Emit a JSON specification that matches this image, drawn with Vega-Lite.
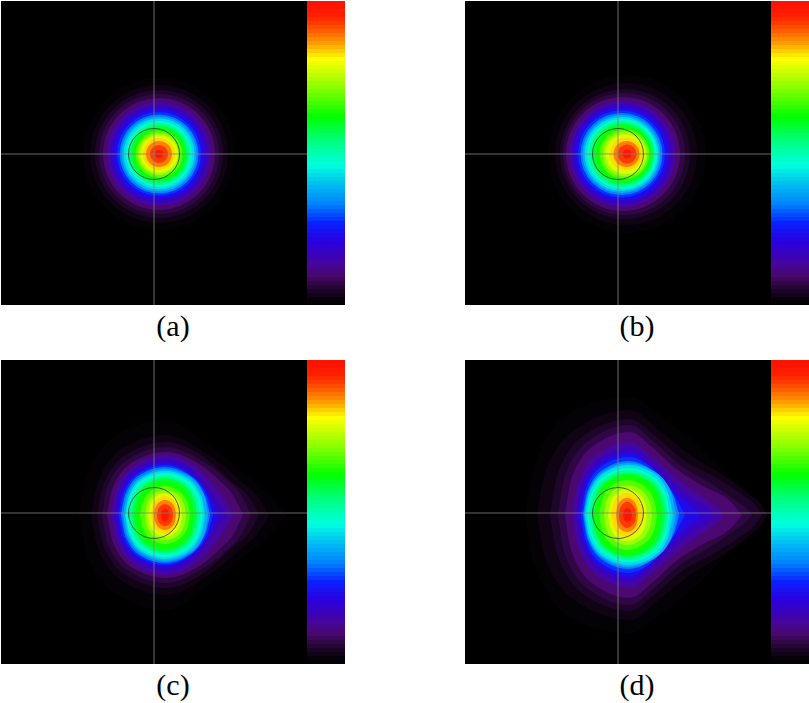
{"$schema":"https://vega.github.io/schema/vega-lite/v6.json","background":"white","padding":{"left":0,"top":0,"right":0,"bottom":0},"autosize":{"type":"pad"},"config":{"view":{"stroke":null}},
"data":{"values":[
{"p":"a","v":0.015,"x":158,"y":153,"r":76},{"p":"a","v":0.03,"x":158,"y":153,"r":69},{"p":"a","v":0.05,"x":158,"y":153,"r":64},{"p":"a","v":0.07,"x":158,"y":153,"r":60},{"p":"a","v":0.1,"x":158,"y":153,"r":56},{"p":"a","v":0.14,"x":158,"y":153,"r":52},{"p":"a","v":0.18,"x":158,"y":153,"r":48.5},{"p":"a","v":0.23,"x":158,"y":153,"r":45},{"p":"a","v":0.28,"x":158,"y":153,"r":42},{"p":"a","v":0.33,"x":158,"y":153,"r":39.5},{"p":"a","v":0.38,"x":158,"y":153,"r":37.5},{"p":"a","v":0.43,"x":158,"y":153,"r":35.5},{"p":"a","v":0.48,"x":158,"y":153,"r":33},{"p":"a","v":0.53,"x":158,"y":153,"r":31},{"p":"a","v":0.58,"x":158,"y":153,"r":28.5},{"p":"a","v":0.63,"x":158,"y":153,"r":26},{"p":"a","v":0.68,"x":158,"y":153,"r":23.5},{"p":"a","v":0.73,"x":158,"y":153,"r":21},{"p":"a","v":0.78,"x":158,"y":153,"r":19},{"p":"a","v":0.83,"x":158,"y":153,"r":16},{"p":"a","v":0.88,"x":158,"y":153,"r":13},{"p":"a","v":0.93,"x":158,"y":153,"r":9},{"p":"a","v":0.98,"x":158,"y":153,"r":4},
{"p":"b","v":0.015,"x":162,"y":153,"r":79},{"p":"b","v":0.03,"x":161,"y":153,"r":71},{"p":"b","v":0.05,"x":160,"y":153,"r":65},{"p":"b","v":0.07,"x":159,"y":153,"r":61},{"p":"b","v":0.1,"x":158,"y":153,"r":57},{"p":"b","v":0.14,"x":157.5,"y":153,"r":53},{"p":"b","v":0.18,"x":157,"y":153,"r":50},{"p":"b","v":0.23,"x":157,"y":153,"r":46.5},{"p":"b","v":0.28,"x":156.5,"y":153,"r":43.5},{"p":"b","v":0.33,"x":156.5,"y":153,"r":41},{"p":"b","v":0.38,"x":156.5,"y":153,"r":39},{"p":"b","v":0.43,"x":156.5,"y":153,"r":37},{"p":"b","v":0.48,"x":157,"y":153,"r":35},{"p":"b","v":0.53,"x":157,"y":153,"r":33},{"p":"b","v":0.58,"x":157.5,"y":153,"r":30.5},{"p":"b","v":0.63,"x":158,"y":153,"r":28},{"p":"b","v":0.68,"x":159.5,"y":153,"r":25},{"p":"b","v":0.73,"x":160,"y":153,"r":22.5},{"p":"b","v":0.78,"x":160.5,"y":153,"r":20},{"p":"b","v":0.83,"x":161,"y":153,"r":16.5},{"p":"b","v":0.88,"x":161.5,"y":153,"r":13},{"p":"b","v":0.93,"x":162,"y":153,"r":9.5},{"p":"b","v":0.98,"x":162,"y":153,"r":4.5},
{"p":"c","v":0.015,"x":78,"a":155,"b":155},{"p":"c","v":0.015,"x":87,"a":113,"b":197},{"p":"c","v":0.015,"x":121.5,"a":72,"b":238},{"p":"c","v":0.015,"x":165,"a":60,"b":250},{"p":"c","v":0.015,"x":210,"a":87,"b":223},{"p":"c","v":0.015,"x":250,"a":119,"b":191},{"p":"c","v":0.015,"x":272,"a":139,"b":171},{"p":"c","v":0.015,"x":285,"a":155,"b":155},
{"p":"c","v":0.03,"x":90,"a":155,"b":155},{"p":"c","v":0.03,"x":97.5,"a":120,"b":190},{"p":"c","v":0.03,"x":127.5,"a":85,"b":225},{"p":"c","v":0.03,"x":165,"a":75,"b":235},{"p":"c","v":0.03,"x":205,"a":93,"b":217},{"p":"c","v":0.03,"x":240,"a":121,"b":189},{"p":"c","v":0.03,"x":258,"a":138,"b":172},{"p":"c","v":0.03,"x":268,"a":155,"b":155},
{"p":"c","v":0.05,"x":96,"a":155,"b":155},{"p":"c","v":0.05,"x":103,"a":123,"b":187},{"p":"c","v":0.05,"x":130.5,"a":91.5,"b":218.5},{"p":"c","v":0.05,"x":165,"a":82,"b":228},{"p":"c","v":0.05,"x":200,"a":95,"b":215},{"p":"c","v":0.05,"x":232,"a":123,"b":187},{"p":"c","v":0.05,"x":248,"a":137,"b":173},{"p":"c","v":0.05,"x":258,"a":155,"b":155},
{"p":"c","v":0.07,"x":101,"a":155,"b":155},{"p":"c","v":0.07,"x":107,"a":125,"b":185},{"p":"c","v":0.07,"x":133,"a":96,"b":214},{"p":"c","v":0.07,"x":165,"a":87,"b":223},{"p":"c","v":0.07,"x":198,"a":99,"b":211},{"p":"c","v":0.07,"x":225,"a":119,"b":191},{"p":"c","v":0.07,"x":240,"a":135,"b":175},{"p":"c","v":0.07,"x":250,"a":155,"b":155},
{"p":"c","v":0.1,"x":106,"a":155,"b":155},{"p":"c","v":0.1,"x":112,"a":127,"b":183},{"p":"c","v":0.1,"x":135.5,"a":100,"b":210},{"p":"c","v":0.1,"x":165,"a":92,"b":218},{"p":"c","v":0.1,"x":195,"a":102,"b":208},{"p":"c","v":0.1,"x":220,"a":122,"b":188},{"p":"c","v":0.1,"x":232,"a":135,"b":175},{"p":"c","v":0.1,"x":242,"a":155,"b":155},
{"p":"c","v":0.14,"x":110,"a":155,"b":155},{"p":"c","v":0.14,"x":115.5,"a":129,"b":181},{"p":"c","v":0.14,"x":137.5,"a":103,"b":207},{"p":"c","v":0.14,"x":165,"a":95,"b":215},{"p":"c","v":0.14,"x":199,"a":110,"b":200},{"p":"c","v":0.14,"x":222,"a":137,"b":173},{"p":"c","v":0.14,"x":233,"a":155,"b":155},
{"p":"c","v":0.18,"x":113,"a":155,"b":155},{"p":"c","v":0.18,"x":118,"a":130.5,"b":179.5},{"p":"c","v":0.18,"x":138.5,"a":106.5,"b":203.5},{"p":"c","v":0.18,"x":164,"a":99,"b":211},{"p":"c","v":0.18,"x":194,"a":112,"b":198},{"p":"c","v":0.18,"x":217,"a":143,"b":167},{"p":"c","v":0.18,"x":225,"a":155,"b":155},
{"p":"c","v":0.23,"x":116,"a":155,"b":155},{"p":"c","v":0.23,"x":121,"a":132,"b":178},{"p":"c","v":0.23,"x":140,"a":110,"b":200},{"p":"c","v":0.23,"x":164,"a":103,"b":207},{"p":"c","v":0.23,"x":190,"a":113,"b":197},{"p":"c","v":0.23,"x":211,"a":141,"b":169},{"p":"c","v":0.23,"x":217,"a":155,"b":155},
{"p":"c","v":0.28,"x":118,"a":155,"b":155},{"p":"c","v":0.28,"x":122.6,"a":133,"b":177},{"p":"c","v":0.28,"x":141,"a":111.5,"b":198.5},{"p":"c","v":0.28,"x":164,"a":105,"b":205},{"p":"c","v":0.28,"x":188,"a":114,"b":196},{"p":"c","v":0.28,"x":207,"a":138,"b":172},{"p":"c","v":0.28,"x":212,"a":155,"b":155},
{"p":"c","v":0.33,"x":120,"a":155,"b":155},{"p":"c","v":0.33,"x":124.4,"a":134,"b":176},{"p":"c","v":0.33,"x":142,"a":113,"b":197},{"p":"c","v":0.33,"x":164,"a":107,"b":203},{"p":"c","v":0.33,"x":186.5,"a":114,"b":196},{"p":"c","v":0.33,"x":204.5,"a":137,"b":173},{"p":"c","v":0.33,"x":209,"a":155,"b":155},
{"p":"c","v":0.38,"x":122,"a":155,"b":155},{"p":"c","v":0.38,"x":126,"a":135,"b":175},{"p":"c","v":0.38,"x":143,"a":115,"b":195},{"p":"c","v":0.38,"x":164,"a":109,"b":201},{"p":"c","v":0.38,"x":185.5,"a":115,"b":195},{"p":"c","v":0.38,"x":203,"a":135,"b":175},{"p":"c","v":0.38,"x":207,"a":155,"b":155},
{"p":"c","v":0.43,"x":124,"a":155,"b":155},{"p":"c","v":0.43,"x":128,"a":135.5,"b":174.5},{"p":"c","v":0.43,"x":144,"a":116.5,"b":193.5},{"p":"c","v":0.43,"x":164,"a":111,"b":199},{"p":"c","v":0.43,"x":184,"a":116.5,"b":193.5},{"p":"c","v":0.43,"x":200,"a":135.5,"b":174.5},{"p":"c","v":0.43,"x":204,"a":155,"b":155},
{"p":"c","v":0.48,"x":125,"a":155,"b":155},{"p":"c","v":0.48,"x":129,"a":136.5,"b":173.5},{"p":"c","v":0.48,"x":144.5,"a":118.5,"b":191.5},{"p":"c","v":0.48,"x":164,"a":113,"b":197},{"p":"c","v":0.48,"x":183,"a":118.5,"b":191.5},{"p":"c","v":0.48,"x":198,"a":136.5,"b":173.5},{"p":"c","v":0.48,"x":202,"a":155,"b":155},
{"p":"c","v":0.53,"x":128,"a":155,"b":155},{"p":"c","v":0.53,"x":131.6,"a":138,"b":172},{"p":"c","v":0.53,"x":146,"a":121,"b":189},{"p":"c","v":0.53,"x":164,"a":116,"b":194},{"p":"c","v":0.53,"x":181.5,"a":121,"b":189},{"p":"c","v":0.53,"x":195.5,"a":138,"b":172},{"p":"c","v":0.53,"x":199,"a":155,"b":155},
{"p":"c","v":0.58,"x":131,"a":155,"b":155},{"p":"c","v":0.58,"x":134.3,"a":139,"b":171},{"p":"c","v":0.58,"x":147.5,"a":123,"b":187},{"p":"c","v":0.58,"x":164,"a":118,"b":192},{"p":"c","v":0.58,"x":180,"a":123,"b":187},{"p":"c","v":0.58,"x":192.8,"a":139,"b":171},{"p":"c","v":0.58,"x":196,"a":155,"b":155},
{"p":"c","v":0.63,"x":134,"a":155,"b":155},{"p":"c","v":0.63,"x":137,"a":140,"b":170},{"p":"c","v":0.63,"x":149,"a":125.5,"b":184.5},{"p":"c","v":0.63,"x":164,"a":121,"b":189},{"p":"c","v":0.63,"x":178.5,"a":125.5,"b":184.5},{"p":"c","v":0.63,"x":190,"a":140,"b":170},{"p":"c","v":0.63,"x":193,"a":155,"b":155},
{"p":"c","v":0.68,"x":139,"a":155,"b":155},{"p":"c","v":0.68,"x":141.5,"a":142.5,"b":167.5},{"p":"c","v":0.68,"x":151.5,"a":130,"b":180},{"p":"c","v":0.68,"x":164,"a":126,"b":184},{"p":"c","v":0.68,"x":176.5,"a":130,"b":180},{"p":"c","v":0.68,"x":186.5,"a":142.5,"b":167.5},{"p":"c","v":0.68,"x":189,"a":155,"b":155},
{"p":"c","v":0.73,"x":144,"a":155,"b":155},{"p":"c","v":0.73,"x":146,"a":144,"b":166},{"p":"c","v":0.73,"x":154,"a":133,"b":177},{"p":"c","v":0.73,"x":164,"a":130,"b":180},{"p":"c","v":0.73,"x":174.5,"a":133,"b":177},{"p":"c","v":0.73,"x":183,"a":144,"b":166},{"p":"c","v":0.73,"x":185,"a":155,"b":155},
{"p":"c","v":0.78,"x":147,"a":155,"b":155},{"p":"c","v":0.78,"x":148.7,"a":145.5,"b":164.5},{"p":"c","v":0.78,"x":155.5,"a":136,"b":174},{"p":"c","v":0.78,"x":164,"a":133,"b":177},{"p":"c","v":0.78,"x":172.5,"a":136,"b":174},{"p":"c","v":0.78,"x":179.3,"a":145.5,"b":164.5},{"p":"c","v":0.78,"x":181,"a":155,"b":155},
{"p":"c","v":0.83,"x":150,"a":155,"b":155},{"p":"c","v":0.83,"x":151.4,"a":146.5,"b":163.5},{"p":"c","v":0.83,"x":157,"a":138.5,"b":171.5},{"p":"c","v":0.83,"x":164,"a":136,"b":174},{"p":"c","v":0.83,"x":171,"a":138.5,"b":171.5},{"p":"c","v":0.83,"x":176.6,"a":146.5,"b":163.5},{"p":"c","v":0.83,"x":178,"a":155,"b":155},
{"p":"c","v":0.88,"x":153,"a":155,"b":155},{"p":"c","v":0.88,"x":154,"a":148.5,"b":161.5},{"p":"c","v":0.88,"x":158.5,"a":142,"b":168},{"p":"c","v":0.88,"x":164,"a":140,"b":170},{"p":"c","v":0.88,"x":169.5,"a":142,"b":168},{"p":"c","v":0.88,"x":174,"a":148.5,"b":161.5},{"p":"c","v":0.88,"x":175,"a":155,"b":155},
{"p":"c","v":0.93,"x":156,"a":155,"b":155},{"p":"c","v":0.93,"x":156.7,"a":150,"b":160},{"p":"c","v":0.93,"x":160,"a":145.5,"b":164.5},{"p":"c","v":0.93,"x":164,"a":144,"b":166},{"p":"c","v":0.93,"x":168,"a":145.5,"b":164.5},{"p":"c","v":0.93,"x":171.3,"a":150,"b":160},{"p":"c","v":0.93,"x":172,"a":155,"b":155},
{"p":"c","v":0.98,"x":160,"a":155,"b":155},{"p":"c","v":0.98,"x":160.4,"a":152,"b":158},{"p":"c","v":0.98,"x":162,"a":149.5,"b":160.5},{"p":"c","v":0.98,"x":164,"a":148.5,"b":161.5},{"p":"c","v":0.98,"x":166,"a":149.5,"b":160.5},{"p":"c","v":0.98,"x":167.6,"a":152,"b":158},{"p":"c","v":0.98,"x":168,"a":155,"b":155},
{"p":"d","v":0.015,"x":60,"a":155,"b":155},{"p":"d","v":0.015,"x":70,"a":103,"b":207},{"p":"d","v":0.015,"x":110,"a":50,"b":260},{"p":"d","v":0.015,"x":165,"a":37,"b":273},{"p":"d","v":0.015,"x":195,"a":55,"b":255},{"p":"d","v":0.015,"x":230,"a":83,"b":227},{"p":"d","v":0.015,"x":265,"a":117,"b":193},{"p":"d","v":0.015,"x":290,"a":137,"b":173},{"p":"d","v":0.015,"x":303,"a":155,"b":155},
{"p":"d","v":0.03,"x":72,"a":155,"b":155},{"p":"d","v":0.03,"x":81,"a":109,"b":201},{"p":"d","v":0.03,"x":118.5,"a":64,"b":246},{"p":"d","v":0.03,"x":165,"a":50,"b":260},{"p":"d","v":0.03,"x":195,"a":71,"b":239},{"p":"d","v":0.03,"x":225,"a":95,"b":215},{"p":"d","v":0.03,"x":255,"a":113,"b":197},{"p":"d","v":0.03,"x":285,"a":135,"b":175},{"p":"d","v":0.03,"x":298,"a":147,"b":163},{"p":"d","v":0.03,"x":302,"a":155,"b":155},
{"p":"d","v":0.05,"x":85,"a":155,"b":155},{"p":"d","v":0.05,"x":93,"a":113,"b":197},{"p":"d","v":0.05,"x":125,"a":71.5,"b":238.5},{"p":"d","v":0.05,"x":165,"a":59,"b":251},{"p":"d","v":0.05,"x":190,"a":76,"b":234},{"p":"d","v":0.05,"x":220,"a":101,"b":209},{"p":"d","v":0.05,"x":250,"a":117,"b":193},{"p":"d","v":0.05,"x":275,"a":133,"b":177},{"p":"d","v":0.05,"x":290,"a":145,"b":165},{"p":"d","v":0.05,"x":297,"a":155,"b":155},
{"p":"d","v":0.07,"x":93,"a":155,"b":155},{"p":"d","v":0.07,"x":100,"a":115.5,"b":194.5},{"p":"d","v":0.07,"x":129,"a":77,"b":233},{"p":"d","v":0.07,"x":165,"a":65,"b":245},{"p":"d","v":0.07,"x":190,"a":83,"b":227},{"p":"d","v":0.07,"x":215,"a":105,"b":205},{"p":"d","v":0.07,"x":245,"a":123,"b":187},{"p":"d","v":0.07,"x":270,"a":140,"b":170},{"p":"d","v":0.07,"x":282,"a":149,"b":161},{"p":"d","v":0.07,"x":287,"a":155,"b":155},
{"p":"d","v":0.1,"x":100,"a":155,"b":155},{"p":"d","v":0.1,"x":106.5,"a":118.5,"b":191.5},{"p":"d","v":0.1,"x":132.5,"a":83,"b":227},{"p":"d","v":0.1,"x":165,"a":72,"b":238},{"p":"d","v":0.1,"x":187,"a":87,"b":223},{"p":"d","v":0.1,"x":210,"a":108,"b":202},{"p":"d","v":0.1,"x":240,"a":127,"b":183},{"p":"d","v":0.1,"x":265,"a":141,"b":169},{"p":"d","v":0.1,"x":272,"a":149,"b":161},{"p":"d","v":0.1,"x":277,"a":155,"b":155},
{"p":"d","v":0.14,"x":107,"a":155,"b":155},{"p":"d","v":0.14,"x":113,"a":123,"b":187},{"p":"d","v":0.14,"x":136,"a":91.5,"b":218.5},{"p":"d","v":0.14,"x":165,"a":82,"b":228},{"p":"d","v":0.14,"x":190,"a":99,"b":211},{"p":"d","v":0.14,"x":220,"a":124,"b":186},{"p":"d","v":0.14,"x":245,"a":142,"b":168},{"p":"d","v":0.14,"x":255,"a":150,"b":160},{"p":"d","v":0.14,"x":258,"a":155,"b":155},
{"p":"d","v":0.18,"x":111,"a":155,"b":155},{"p":"d","v":0.18,"x":116.4,"a":125.5,"b":184.5},{"p":"d","v":0.18,"x":138,"a":97,"b":213},{"p":"d","v":0.18,"x":165,"a":88,"b":222},{"p":"d","v":0.18,"x":190,"a":105,"b":205},{"p":"d","v":0.18,"x":215,"a":129,"b":181},{"p":"d","v":0.18,"x":235,"a":143,"b":167},{"p":"d","v":0.18,"x":245,"a":150,"b":160},{"p":"d","v":0.18,"x":248,"a":155,"b":155},
{"p":"d","v":0.23,"x":114,"a":155,"b":155},{"p":"d","v":0.23,"x":119,"a":128,"b":182},{"p":"d","v":0.23,"x":139.5,"a":101,"b":209},{"p":"d","v":0.23,"x":165,"a":93,"b":217},{"p":"d","v":0.23,"x":187.5,"a":108.5,"b":201.5},{"p":"d","v":0.23,"x":210,"a":132,"b":178},{"p":"d","v":0.23,"x":227,"a":147,"b":163},{"p":"d","v":0.23,"x":236,"a":155,"b":155},
{"p":"d","v":0.28,"x":116,"a":155,"b":155},{"p":"d","v":0.28,"x":120.7,"a":129.5,"b":180.5},{"p":"d","v":0.28,"x":139.5,"a":104.5,"b":205.5},{"p":"d","v":0.28,"x":163,"a":97,"b":213},{"p":"d","v":0.28,"x":191,"a":111.5,"b":198.5},{"p":"d","v":0.28,"x":208,"a":133,"b":177},{"p":"d","v":0.28,"x":220,"a":155,"b":155},
{"p":"d","v":0.33,"x":118,"a":155,"b":155},{"p":"d","v":0.33,"x":122.5,"a":131,"b":179},{"p":"d","v":0.33,"x":140.5,"a":108,"b":202},{"p":"d","v":0.33,"x":163,"a":101,"b":209},{"p":"d","v":0.33,"x":188,"a":111,"b":199},{"p":"d","v":0.33,"x":209,"a":137,"b":173},{"p":"d","v":0.33,"x":214,"a":155,"b":155},
{"p":"d","v":0.38,"x":119,"a":155,"b":155},{"p":"d","v":0.38,"x":123.4,"a":132,"b":178},{"p":"d","v":0.38,"x":141,"a":110,"b":200},{"p":"d","v":0.38,"x":163,"a":103,"b":207},{"p":"d","v":0.38,"x":187,"a":110,"b":200},{"p":"d","v":0.38,"x":206,"a":132,"b":178},{"p":"d","v":0.38,"x":211,"a":155,"b":155},
{"p":"d","v":0.43,"x":120,"a":155,"b":155},{"p":"d","v":0.43,"x":124.3,"a":133,"b":177},{"p":"d","v":0.43,"x":141.5,"a":111.5,"b":198.5},{"p":"d","v":0.43,"x":163,"a":105,"b":205},{"p":"d","v":0.43,"x":186,"a":111.5,"b":198.5},{"p":"d","v":0.43,"x":203,"a":133,"b":177},{"p":"d","v":0.43,"x":208,"a":155,"b":155},
{"p":"d","v":0.48,"x":122,"a":155,"b":155},{"p":"d","v":0.48,"x":126,"a":134.5,"b":175.5},{"p":"d","v":0.48,"x":142.5,"a":114,"b":196},{"p":"d","v":0.48,"x":163,"a":108,"b":202},{"p":"d","v":0.48,"x":184,"a":114,"b":196},{"p":"d","v":0.48,"x":201,"a":134.5,"b":175.5},{"p":"d","v":0.48,"x":205,"a":155,"b":155},
{"p":"d","v":0.53,"x":124,"a":155,"b":155},{"p":"d","v":0.53,"x":128,"a":135,"b":175},{"p":"d","v":0.53,"x":143.5,"a":116,"b":194},{"p":"d","v":0.53,"x":163,"a":110,"b":200},{"p":"d","v":0.53,"x":183,"a":116,"b":194},{"p":"d","v":0.53,"x":199,"a":135,"b":175},{"p":"d","v":0.53,"x":203,"a":155,"b":155},
{"p":"d","v":0.58,"x":127,"a":155,"b":155},{"p":"d","v":0.58,"x":130.5,"a":136.5,"b":173.5},{"p":"d","v":0.58,"x":145,"a":118.5,"b":191.5},{"p":"d","v":0.58,"x":163,"a":113,"b":197},{"p":"d","v":0.58,"x":181.5,"a":118.5,"b":191.5},{"p":"d","v":0.58,"x":196.5,"a":136.5,"b":173.5},{"p":"d","v":0.58,"x":200,"a":155,"b":155},
{"p":"d","v":0.63,"x":129,"a":155,"b":155},{"p":"d","v":0.63,"x":132.5,"a":137.5,"b":172.5},{"p":"d","v":0.63,"x":146,"a":120,"b":190},{"p":"d","v":0.63,"x":163,"a":115,"b":195},{"p":"d","v":0.63,"x":180,"a":120,"b":190},{"p":"d","v":0.63,"x":193.5,"a":137.5,"b":172.5},{"p":"d","v":0.63,"x":197,"a":155,"b":155},
{"p":"d","v":0.68,"x":134,"a":155,"b":155},{"p":"d","v":0.68,"x":137,"a":140,"b":170},{"p":"d","v":0.68,"x":148,"a":125,"b":185},{"p":"d","v":0.68,"x":162,"a":120,"b":190},{"p":"d","v":0.68,"x":177,"a":125,"b":185},{"p":"d","v":0.68,"x":189,"a":140,"b":170},{"p":"d","v":0.68,"x":192,"a":155,"b":155},
{"p":"d","v":0.73,"x":139,"a":155,"b":155},{"p":"d","v":0.73,"x":141,"a":142,"b":168},{"p":"d","v":0.73,"x":150.5,"a":129,"b":181},{"p":"d","v":0.73,"x":162,"a":125,"b":185},{"p":"d","v":0.73,"x":174.5,"a":129,"b":181},{"p":"d","v":0.73,"x":184.5,"a":142,"b":168},{"p":"d","v":0.73,"x":187,"a":155,"b":155},
{"p":"d","v":0.78,"x":143,"a":155,"b":155},{"p":"d","v":0.78,"x":145,"a":143.5,"b":166.5},{"p":"d","v":0.78,"x":152.5,"a":132.5,"b":177.5},{"p":"d","v":0.78,"x":162,"a":129,"b":181},{"p":"d","v":0.78,"x":172,"a":132.5,"b":177.5},{"p":"d","v":0.78,"x":180,"a":143.5,"b":166.5},{"p":"d","v":0.78,"x":182,"a":155,"b":155},
{"p":"d","v":0.83,"x":146,"a":155,"b":155},{"p":"d","v":0.83,"x":147.6,"a":145.5,"b":164.5},{"p":"d","v":0.83,"x":154,"a":136,"b":174},{"p":"d","v":0.83,"x":162,"a":133,"b":177},{"p":"d","v":0.83,"x":170,"a":136,"b":174},{"p":"d","v":0.83,"x":176.4,"a":145.5,"b":164.5},{"p":"d","v":0.83,"x":178,"a":155,"b":155},
{"p":"d","v":0.88,"x":151,"a":155,"b":155},{"p":"d","v":0.88,"x":152,"a":147.5,"b":162.5},{"p":"d","v":0.88,"x":156.5,"a":140,"b":170},{"p":"d","v":0.88,"x":162,"a":138,"b":172},{"p":"d","v":0.88,"x":167.5,"a":140,"b":170},{"p":"d","v":0.88,"x":172,"a":147.5,"b":162.5},{"p":"d","v":0.88,"x":173,"a":155,"b":155},
{"p":"d","v":0.93,"x":154,"a":155,"b":155},{"p":"d","v":0.93,"x":154.7,"a":149,"b":161},{"p":"d","v":0.93,"x":158,"a":144,"b":166},{"p":"d","v":0.93,"x":162,"a":142,"b":168},{"p":"d","v":0.93,"x":166.5,"a":144,"b":166},{"p":"d","v":0.93,"x":170.2,"a":149,"b":161},{"p":"d","v":0.93,"x":171,"a":155,"b":155},
{"p":"d","v":0.98,"x":158,"a":155,"b":155},{"p":"d","v":0.98,"x":158.4,"a":152,"b":158},{"p":"d","v":0.98,"x":160,"a":149,"b":161},{"p":"d","v":0.98,"x":162,"a":148,"b":162},{"p":"d","v":0.98,"x":164.5,"a":149,"b":161},{"p":"d","v":0.98,"x":166.5,"a":152,"b":158},{"p":"d","v":0.98,"x":167,"a":155,"b":155}
]},
"facet":{"field":"p","type":"nominal","title":null,"header":{"labelOrient":"bottom","labelFont":"Liberation Serif","labelFontSize":30,"labelColor":"#000000","labelPadding":6,"labelExpr":"'(' + datum.value + ')'"}},
"columns":2,"spacing":{"column":119,"row":17},
"spec":{"width":344,"height":304,
"encoding":{"x":{"field":"x","type":"quantitative","axis":null,"scale":{"domain":[0,344],"nice":false,"zero":false}},
"y":{"field":"y","type":"quantitative","axis":null,"scale":{"domain":[0,304],"reverse":true,"nice":false,"zero":false}}},
"layer":[
{"data":{"values":[{"x":0,"x2":306,"y":0,"y2":304}]},"mark":{"type":"rect","color":"#000000","stroke":null},"encoding":{"x2":{"field":"x2"},"y2":{"field":"y2"}}},
{"transform":[{"filter":{"field":"a","valid":true}}],"mark":{"type":"area","interpolate":"monotone","opacity":1},"encoding":{"y":{"field":"a","type":"quantitative"},"y2":{"field":"b"},"detail":{"field":"v","type":"quantitative"},"color":{"field":"v","type":"quantitative","legend":null,"scale":{"domain":[0,0.02,0.06,0.1,0.14,0.21,0.27,0.33,0.4,0.46,0.54,0.62,0.72,0.81,0.86,0.9,0.95,1],"range":["#000000","#070209","#260735","#4a0870","#4505a0","#2a00e0","#0a20ff","#0080ff","#00c0f0","#00ffe0","#00ff80","#00ff00","#90ff00","#ffff00","#ffa000","#ff6000","#ff2000","#ff1000"],"interpolate":"rgb"}}}},
{"transform":[{"filter":{"field":"r","valid":true}}],"mark":{"type":"point","shape":"circle","filled":true,"opacity":1,"strokeWidth":0},"encoding":{"size":{"field":"r","type":"quantitative","legend":null,"scale":{"type":"pow","exponent":2,"domain":[0,150],"range":[0,90000]}},"color":{"field":"v","type":"quantitative","legend":null}}},
{"data":{"values":[{"x":153,"x2":153,"y":0,"y2":304},{"x":0,"x2":306,"y":153,"y2":153}]},"mark":{"type":"rule","color":"#808080","strokeWidth":1,"opacity":0.8},"encoding":{"x2":{"field":"x2"},"y2":{"field":"y2"}}},
{"data":{"values":[{"x":153,"y":153,"r":25.5}]},"mark":{"type":"point","shape":"circle","filled":false,"color":"#404040","strokeWidth":1,"opacity":0.85},"encoding":{"size":{"field":"r","type":"quantitative","legend":null}}},
{"data":{"values":[{"x":306,"x2":344,"v":0.993,"y":0,"y2":4},{"x":306,"x2":344,"v":0.98,"y":4,"y2":8},{"x":306,"x2":344,"v":0.967,"y":8,"y2":12},{"x":306,"x2":344,"v":0.954,"y":12,"y2":16},{"x":306,"x2":344,"v":0.941,"y":16,"y2":20},{"x":306,"x2":344,"v":0.928,"y":20,"y2":24},{"x":306,"x2":344,"v":0.914,"y":24,"y2":28},{"x":306,"x2":344,"v":0.901,"y":28,"y2":32},{"x":306,"x2":344,"v":0.888,"y":32,"y2":36},{"x":306,"x2":344,"v":0.875,"y":36,"y2":40},{"x":306,"x2":344,"v":0.862,"y":40,"y2":44},{"x":306,"x2":344,"v":0.849,"y":44,"y2":48},{"x":306,"x2":344,"v":0.836,"y":48,"y2":52},{"x":306,"x2":344,"v":0.822,"y":52,"y2":56},{"x":306,"x2":344,"v":0.809,"y":56,"y2":60},{"x":306,"x2":344,"v":0.796,"y":60,"y2":64},{"x":306,"x2":344,"v":0.783,"y":64,"y2":68},{"x":306,"x2":344,"v":0.77,"y":68,"y2":72},{"x":306,"x2":344,"v":0.757,"y":72,"y2":76},{"x":306,"x2":344,"v":0.743,"y":76,"y2":80},{"x":306,"x2":344,"v":0.73,"y":80,"y2":84},{"x":306,"x2":344,"v":0.717,"y":84,"y2":88},{"x":306,"x2":344,"v":0.704,"y":88,"y2":92},{"x":306,"x2":344,"v":0.691,"y":92,"y2":96},{"x":306,"x2":344,"v":0.678,"y":96,"y2":100},{"x":306,"x2":344,"v":0.664,"y":100,"y2":104},{"x":306,"x2":344,"v":0.651,"y":104,"y2":108},{"x":306,"x2":344,"v":0.638,"y":108,"y2":112},{"x":306,"x2":344,"v":0.625,"y":112,"y2":116},{"x":306,"x2":344,"v":0.612,"y":116,"y2":120},{"x":306,"x2":344,"v":0.599,"y":120,"y2":124},{"x":306,"x2":344,"v":0.586,"y":124,"y2":128},{"x":306,"x2":344,"v":0.572,"y":128,"y2":132},{"x":306,"x2":344,"v":0.559,"y":132,"y2":136},{"x":306,"x2":344,"v":0.546,"y":136,"y2":140},{"x":306,"x2":344,"v":0.533,"y":140,"y2":144},{"x":306,"x2":344,"v":0.52,"y":144,"y2":148},{"x":306,"x2":344,"v":0.507,"y":148,"y2":152},{"x":306,"x2":344,"v":0.493,"y":152,"y2":156},{"x":306,"x2":344,"v":0.48,"y":156,"y2":160},{"x":306,"x2":344,"v":0.467,"y":160,"y2":164},{"x":306,"x2":344,"v":0.454,"y":164,"y2":168},{"x":306,"x2":344,"v":0.441,"y":168,"y2":172},{"x":306,"x2":344,"v":0.428,"y":172,"y2":176},{"x":306,"x2":344,"v":0.414,"y":176,"y2":180},{"x":306,"x2":344,"v":0.401,"y":180,"y2":184},{"x":306,"x2":344,"v":0.388,"y":184,"y2":188},{"x":306,"x2":344,"v":0.375,"y":188,"y2":192},{"x":306,"x2":344,"v":0.362,"y":192,"y2":196},{"x":306,"x2":344,"v":0.349,"y":196,"y2":200},{"x":306,"x2":344,"v":0.336,"y":200,"y2":204},{"x":306,"x2":344,"v":0.322,"y":204,"y2":208},{"x":306,"x2":344,"v":0.309,"y":208,"y2":212},{"x":306,"x2":344,"v":0.296,"y":212,"y2":216},{"x":306,"x2":344,"v":0.283,"y":216,"y2":220},{"x":306,"x2":344,"v":0.27,"y":220,"y2":224},{"x":306,"x2":344,"v":0.257,"y":224,"y2":228},{"x":306,"x2":344,"v":0.243,"y":228,"y2":232},{"x":306,"x2":344,"v":0.23,"y":232,"y2":236},{"x":306,"x2":344,"v":0.217,"y":236,"y2":240},{"x":306,"x2":344,"v":0.204,"y":240,"y2":244},{"x":306,"x2":344,"v":0.191,"y":244,"y2":248},{"x":306,"x2":344,"v":0.178,"y":248,"y2":252},{"x":306,"x2":344,"v":0.164,"y":252,"y2":256},{"x":306,"x2":344,"v":0.151,"y":256,"y2":260},{"x":306,"x2":344,"v":0.138,"y":260,"y2":264},{"x":306,"x2":344,"v":0.125,"y":264,"y2":268},{"x":306,"x2":344,"v":0.112,"y":268,"y2":272},{"x":306,"x2":344,"v":0.099,"y":272,"y2":276},{"x":306,"x2":344,"v":0.086,"y":276,"y2":280},{"x":306,"x2":344,"v":0.072,"y":280,"y2":284},{"x":306,"x2":344,"v":0.059,"y":284,"y2":288},{"x":306,"x2":344,"v":0.046,"y":288,"y2":292},{"x":306,"x2":344,"v":0.033,"y":292,"y2":296},{"x":306,"x2":344,"v":0.02,"y":296,"y2":300},{"x":306,"x2":344,"v":0.007,"y":300,"y2":304}]},"mark":{"type":"rect","stroke":null},"encoding":{"x2":{"field":"x2"},"y2":{"field":"y2"},"color":{"field":"v","type":"quantitative","legend":null}}}
]}}
